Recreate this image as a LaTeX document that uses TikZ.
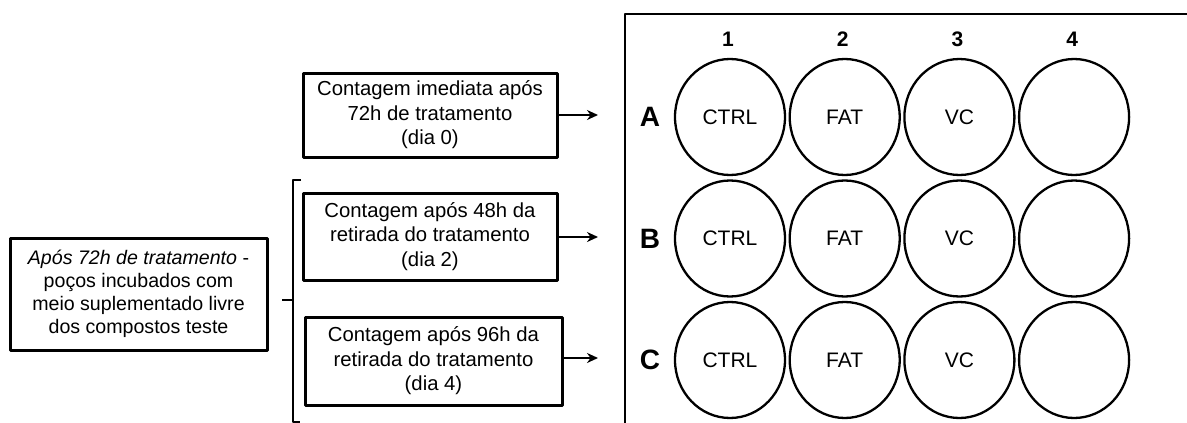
\documentclass[tikz,border=0pt]{standalone}
\usepackage{fontspec}
\setmainfont{Liberation Sans}
\usetikzlibrary{arrows.meta,shapes.geometric}
\begin{document}
\begin{tikzpicture}[x=1pt,y=-1pt,line join=round,
	caixa/.style={draw,line width=3pt,align=center,inner sep=0pt,font=\fontsize{20.3}{24.5}\selectfont},
	poco/.style={draw,ellipse,line width=2.3pt,minimum width=110pt,minimum height=116pt,inner sep=0pt,font=\fontsize{21}{22}\selectfont},
	seta/.style={-{Stealth[length=11pt,width=10pt]},line width=2.4pt}]
	\useasboundingbox (0,0) rectangle (1187,423);
	% caixas de contagem
	\node[caixa,minimum width=254pt,minimum height=84pt] (dia0) at (430,115) {Contagem imediata após\\72h de tratamento\\(dia 0)};
	\node[caixa,minimum width=254pt,minimum height=87pt] (dia2) at (430,236.5) {Contagem após 48h da\\retirada do tratamento\\(dia 2)};
	\node[caixa,minimum width=257pt,minimum height=88pt] (dia4) at (433.5,361) {Contagem após 96h da\\retirada do tratamento\\(dia 4)};
	\node[caixa,minimum width=257pt,minimum height=112pt,font=\fontsize{19.6}{23}\selectfont] (apos) at (138.5,294) {\textit{Após 72h de tratamento} -\\poços incubados com\\meio suplementado livre\\dos compostos teste};
	% chave
	\coordinate (chave) at (293,300);
	\draw[line width=2.6pt] (301,180) -- (293,180) -- (293,422) -- (300,422);
	\draw[line width=2.6pt] (chave) -- ++(-11,0);
	% setas
	\coordinate (s0) at (598,115);
	\coordinate (s2) at (598,237);
	\coordinate (s4) at (598,358);
	\draw[seta] (dia0.east |- s0) -- (s0);
	\draw[seta] (dia2.east |- s2) -- (s2);
	\draw[seta] (dia4.east |- s4) -- (s4);
	% placa
	\draw[line width=2.4pt] (1200,14) -- (625,14) -- (625,440);
	\foreach \c [count=\j] in {1,2,3,4}
		\node[font=\bfseries\fontsize{21}{21}\selectfont] (col\j) at ({728+114.7*(\j-1)},39) {\c};
	\foreach \l [count=\i] in {A,B,C}{
		\node[font=\bfseries\fontsize{28}{28}\selectfont] (lin\l) at (650,{117+121.5*(\i-1)}) {\l};
		\foreach \t [count=\j] in {CTRL,FAT,VC,{}}
			\node[poco] (p\l\j) at ({730+114.7*(\j-1)},{117+121.5*(\i-1)}) {\t};
	}
\end{tikzpicture}
\end{document}
